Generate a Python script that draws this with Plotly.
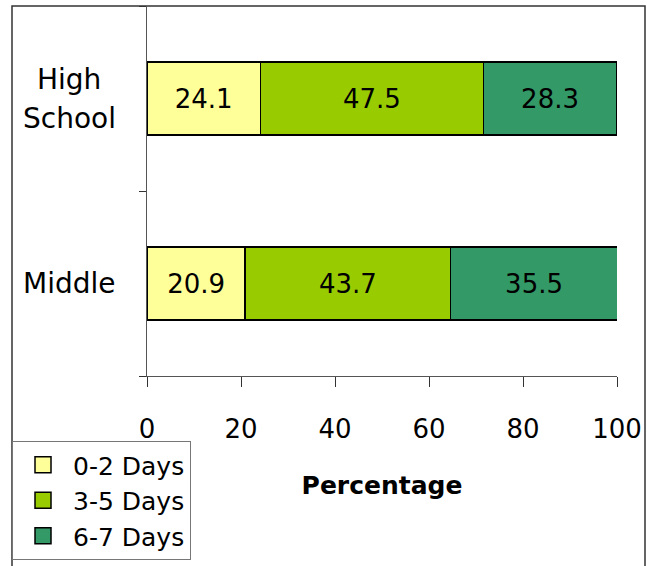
import plotly.graph_objects as go

# School levels (bottom to top) and share of students by days per week
levels = ["Middle", "High School"]
level_labels = ["Middle", "High<br>School"]
series_names = ["0-2 Days", "3-5 Days", "6-7 Days"]
days_0_2 = [20.9, 24.1]
days_3_5 = [43.7, 47.5]
days_6_7 = [35.5, 28.3]
x_ticks = [0, 20, 40, 60, 80, 100]

colors = ["#FFFF99", "#99CC00", "#339966"]
FONT = "DejaVu Sans"

W, H = 647, 566
L, R, T, B = 147, 30, 6, 185
pw, ph = W - L - R, H - T - B


def px_x(px):
    return (px - L) / pw


def px_y(py):
    return (H - B - py) / ph


fig = go.Figure()
for name, vals, col in zip(series_names, [days_0_2, days_3_5, days_6_7], colors):
    fig.add_trace(go.Bar(
        y=levels, x=vals, name=name, orientation="h",
        marker=dict(color=col, line=dict(color="black", width=1.5)),
        text=[f"{v:.1f}" for v in vals], textposition="inside",
        insidetextanchor="middle",
        textfont=dict(family=FONT, size=26, color="black"),
        width=0.395, showlegend=False,
    ))
    # legend entry with a bordered square swatch
    fig.add_trace(go.Scatter(
        x=[None], y=[None], mode="markers", name=name,
        marker=dict(symbol="square", size=16, color=col,
                    line=dict(color="black", width=1.5)),
    ))

# category labels, one centred annotation per line so the spacing can be set
LINE_GAP = 39
for lvl, lab in zip(levels, level_labels):
    lines = lab.split("<br>")
    n = len(lines)
    for i, line in enumerate(lines):
        fig.add_annotation(x=px_x(69), xref="paper", y=lvl, yref="y",
                           text=line, showarrow=False, xanchor="center",
                           yshift=((n - 1) / 2 - i) * LINE_GAP,
                           font=dict(family=FONT, size=28, color="black"))

# outer chart frame (bottom edge runs past the page)
fig.add_shape(type="rect", xref="paper", yref="paper",
              x0=px_x(12), x1=px_x(645), y0=px_y(575), y1=px_y(6),
              line=dict(color="#333333", width=1.5), layer="below")

fig.update_layout(
    width=W, height=H,
    margin=dict(l=L, r=R, t=T, b=B),
    barmode="stack",
    plot_bgcolor="white", paper_bgcolor="white",
    font=dict(family=FONT, color="black"),
    xaxis=dict(range=[0, 100], tickvals=x_ticks, ticks="outside", ticklen=10,
               tickcolor="#333333", showgrid=False, zeroline=False,
               showline=True, linecolor="#555555", linewidth=1,
               automargin=False,
               tickfont=dict(family=FONT, size=26, color="black"),
               ticklabelstandoff=20,
               title=dict(text="<b>Percentage</b>", standoff=33,
                          font=dict(family=FONT, size=25, color="black"))),
    yaxis=dict(categoryorder="array", categoryarray=levels,
               range=[-0.5, 1.5], showticklabels=False, ticks="outside",
               tickson="boundaries", ticklen=7, tickcolor="#333333",
               showgrid=False, zeroline=False, showline=True,
               linecolor="#555555", linewidth=1, automargin=False),
    legend=dict(x=px_x(12), y=px_y(447), xanchor="left", yanchor="top",
                bordercolor="#777777", borderwidth=1, bgcolor="white",
                font=dict(family=FONT, size=25, color="black"),
                traceorder="normal", itemwidth=50, tracegroupgap=0),
    showlegend=True,
)

fig.write_html("out.html")
